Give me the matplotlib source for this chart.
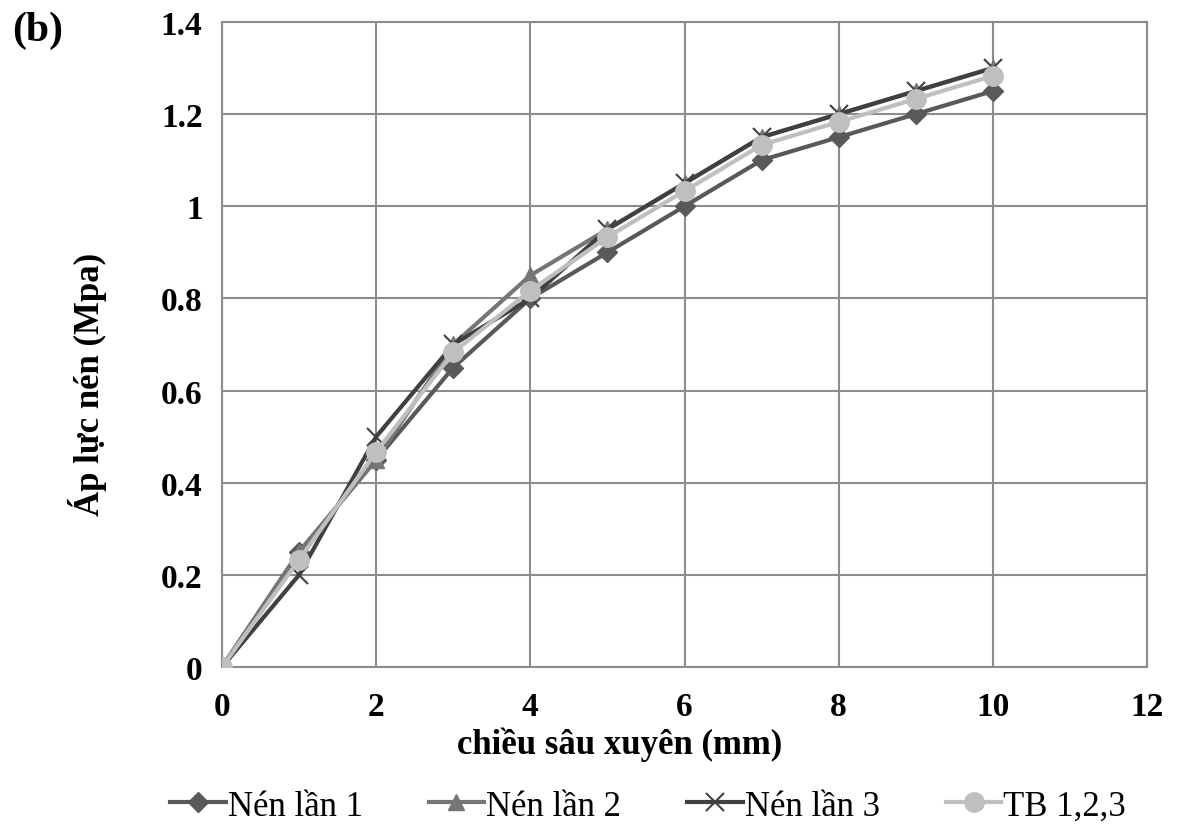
import numpy as np
import matplotlib.pyplot as plt

# penetration depth (mm) and pressure (MPa)
depth = [0, 1, 2, 3, 4, 5, 6, 7, 8, 9, 10]
nen1 = [0, 0.25, 0.45, 0.65, 0.80, 0.90, 1.00, 1.10, 1.15, 1.20, 1.25]
nen2 = [0, 0.25, 0.45, 0.70, 0.85, 0.95, 1.05, 1.15, 1.20, 1.25, 1.30]
nen3 = [0, 0.20, 0.50, 0.70, 0.80, 0.95, 1.05, 1.15, 1.20, 1.25, 1.30]
tb = [0, 0.233, 0.467, 0.683, 0.817, 0.933, 1.033, 1.133, 1.183, 1.233, 1.283]

plt.rcParams["font.family"] = ["Liberation Serif", "DejaVu Serif"]

fig = plt.figure(figsize=(11.78, 8.29), dpi=100)
ax = fig.add_axes([0.1885, 0.1942, 0.7852, 0.7781])

ax.plot(depth, nen1, color="#595959", lw=3, marker="D", ms=10, label="Nén lần 1", zorder=3)
ax.plot(depth, nen2, color="#767676", lw=3, marker="^", ms=12, label="Nén lần 2", zorder=3)
ax.plot(depth, nen3, color="#404040", lw=3, marker="x", ms=13, mew=1.5, label="Nén lần 3", zorder=4)
ax.plot(depth, tb, color="#BFBFBF", lw=3, marker="o", ms=14, label="TB 1,2,3", zorder=5)

ax.set_xlim(0, 12)
ax.set_ylim(0, 1.4)
ax.set_xticks(np.arange(0, 13, 2))
ax.set_yticks(np.arange(0, 1.41, 0.2))
ax.set_xticklabels(["0", "2", "4", "6", "8", "10", "12"])
ax.set_yticklabels(["0", "0.2", "0.4", "0.6", "0.8", "1", "1.2", "1.4"])
ax.tick_params(length=0, labelsize=24)
ax.tick_params(axis="x", pad=17)
ax.tick_params(axis="y", pad=14)
for lab in ax.get_xticklabels() + ax.get_yticklabels():
    lab.set_fontweight("bold")

ax.grid(True, color="#8C8C8C", lw=1.5)
ax.set_axisbelow(True)
for s in ax.spines.values():
    s.set_color("#8C8C8C")
    s.set_linewidth(1.5)

ax.set_xlabel("chiều sâu xuyên (mm)", fontsize=25, fontweight="bold", va="center")
ax.set_ylabel("Áp lực nén (Mpa)", fontsize=25, fontweight="bold", va="center")
ax.xaxis.set_label_coords(0.43, -0.119)
ax.yaxis.set_label_coords(-0.145, 0.44)

fig.text(0.032, 0.9626, "(b)", fontsize=30, fontweight="bold", ha="center", va="center")

ax.legend(loc="center", bbox_to_anchor=(0.4606, -0.2155), ncol=4, frameon=False,
          fontsize=25, handlelength=1.6, handletextpad=0.06, columnspacing=1.9,
          borderaxespad=0, borderpad=0)

plt.savefig("out.png", dpi=100)
